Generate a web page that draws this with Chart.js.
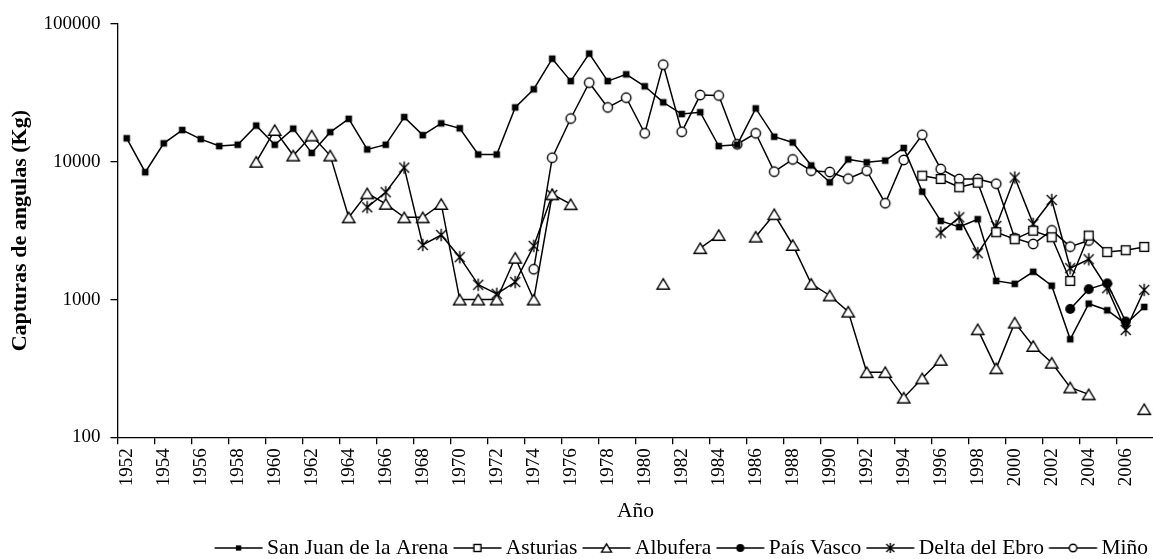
<!DOCTYPE html>
<html><head><meta charset="utf-8">
<script src="https://cdn.jsdelivr.net/npm/chart.js@4.4.0/dist/chart.umd.min.js"></script>
<style>
html,body{margin:0;padding:0;background:#fff;overflow:hidden;width:1153px;height:559px}
#wrap{position:absolute;left:0;top:0;width:1160px;height:570px}
</style></head><body>
<div id="wrap"><canvas id="c"></canvas></div>
<script>
// ---- data ----
const years = ['1952','1953','1954','1955','1956','1957','1958','1959','1960','1961','1962','1963','1964','1965','1966','1967','1968','1969','1970','1971','1972','1973','1974','1975','1976','1977','1978','1979','1980','1981','1982','1983','1984','1985','1986','1987','1988','1989','1990','1991','1992','1993','1994','1995','1996','1997','1998','1999','2000','2001','2002','2003','2004','2005','2006','2007'];
const yTicks = [100, 1000, 10000, 100000];
const sanJuan = [14800,8400,13600,17000,14600,13000,13300,18300,13300,17400,11600,16400,20500,12300,13300,21100,15600,19000,17500,11300,11300,24800,33600,56000,38500,61000,38500,43100,35300,27000,22200,22900,13000,13300,24400,15200,13800,9400,7100,10400,9900,10200,12600,6070,3720,3360,3830,1365,1300,1590,1260,515,933,836,665,883];
const asturias = [null,null,null,null,null,null,null,null,null,null,null,null,null,null,null,null,null,null,null,null,null,null,null,null,null,null,null,null,null,null,null,null,null,null,null,null,null,null,null,null,null,null,null,7930,7500,6530,7050,3080,2740,3160,2830,1365,2910,2210,2280,2410];
const albufera = [null,null,null,null,null,null,null,10000,17000,11100,15500,11100,3950,5900,4950,3950,3950,4940,1000,1000,1000,2010,1000,5810,4920,null,null,null,null,1300,null,2360,2940,null,2860,4160,2490,1300,1070,817,297,297,194,268,365,null,608,317,680,460,348,230,205,null,null,160];
const paisVasco = [null,null,null,null,null,null,null,null,null,null,null,null,null,null,null,null,null,null,null,null,null,null,null,null,null,null,null,null,null,null,null,null,null,null,null,null,null,null,null,null,null,null,null,null,null,null,null,null,null,null,null,855,1190,1310,692,null];
const deltaEbro = [null,null,null,null,null,null,null,null,null,null,null,null,null,4680,6010,9060,2490,2940,2030,1280,1100,1340,2450,5740,null,null,null,null,null,null,null,null,null,null,null,null,null,null,null,null,null,null,null,null,3060,3950,2170,3420,7680,3540,5280,1690,1960,1210,601,1175];
const mino = [null,null,null,null,null,null,null,null,null,null,null,null,null,null,null,null,null,null,null,null,null,null,1660,10700,20600,37500,24800,29200,16100,50700,16500,30500,30300,13400,16100,8480,10400,8610,8430,7540,8610,5000,10300,15700,8870,7500,7500,6930,2790,2530,3180,2420,2680,null,null,null];
const seriesNames = ['San Juan de la Arena','Asturias','Albufera','País Vasco','Delta del Ebro','Miño'];
const seriesData = [sanJuan, asturias, albufera, paisVasco, deltaEbro, mino];
const seriesMarkers = ['sq','osq','tri','dot','star','circ'];

// ---- marker drawing ----
const SERIF = "'Liberation Serif','Times New Roman',serif";
function drawMarker(g, type, cx, cy, s) {
  g.lineWidth = 1.4; g.strokeStyle = '#000'; g.fillStyle = '#000';
  if (type === 'sq') { const a = 3.3*s; g.fillRect(cx-a, cy-a, 2*a, 2*a); }
  else if (type === 'osq') { const a = 4.4*s; g.fillStyle='#fff'; g.fillRect(cx-a,cy-a,2*a,2*a); g.strokeRect(cx-a,cy-a,2*a,2*a); }
  else if (type === 'tri') { const w = 6.2*s, h = 5.2*s; g.beginPath(); g.moveTo(cx, cy-h); g.lineTo(cx+w, cy+h); g.lineTo(cx-w, cy+h); g.closePath(); g.fillStyle='#fff'; g.fill(); g.stroke(); }
  else if (type === 'dot') { g.beginPath(); g.arc(cx, cy, 5*s, 0, Math.PI*2); g.fill(); }
  else if (type === 'star') { const a = 5*s; g.beginPath(); g.moveTo(cx-a,cy-a); g.lineTo(cx+a,cy+a); g.moveTo(cx-a,cy+a); g.lineTo(cx+a,cy-a); g.moveTo(cx,cy-a*1.25); g.lineTo(cx,cy+a*1.25); g.stroke(); }
  else if (type === 'circ') { g.beginPath(); g.arc(cx, cy, 4.7*s, 0, Math.PI*2); g.fillStyle='#fff'; g.fill(); g.stroke(); }
}
function pointImg(type) {
  const c = document.createElement('canvas'); c.width = 18; c.height = 18;
  drawMarker(c.getContext('2d'), type, 9, 9, 1); return c;
}
function legendImg(type) {
  const c = document.createElement('canvas'); c.width = 50; c.height = 16;
  const g = c.getContext('2d');
  g.strokeStyle = '#000'; g.lineWidth = 1.4; g.beginPath(); g.moveTo(0.7, 8); g.lineTo(48.7, 8); g.stroke();
  drawMarker(g, type, 24.7, 8, 0.8); return c;
}
const pImgs = seriesMarkers.map(pointImg);
const lImgs = seriesMarkers.map(legendImg);

Chart.defaults.font.family = SERIF;
Chart.defaults.color = '#000';

new Chart(document.getElementById('c'), {
  type: 'line',
  data: {
    labels: years,
    datasets: seriesNames.map((n, i) => ({
      label: n, data: seriesData[i], borderColor: '#000', borderWidth: 1.5,
      pointStyle: pImgs[i], pointRadius: 5, pointHoverRadius: 5,
      spanGaps: false, tension: 0, fill: false
    }))
  },
  options: {
    responsive: true, maintainAspectRatio: false, animation: false, devicePixelRatio: 1,
    events: [],
    layout: { padding: { top: 24, left: 0, right: 0, bottom: 1.25 } },
    plugins: {
      tooltip: { enabled: false },
      legend: {
        position: 'bottom', align: 'end',
        labels: {
          usePointStyle: true, pointStyleWidth: 34.65, padding: 12, color: '#000',
          font: { family: SERIF, size: 21.5 },
          generateLabels: (chart) => chart.data.datasets.map((d, i) => ({
            text: d.label, pointStyle: lImgs[i], fillStyle: '#000', strokeStyle: '#000',
            lineWidth: 0, hidden: false, datasetIndex: i, fontColor: '#000'
          }))
        }
      }
    },
    scales: {
      x: {
        type: 'category', offset: true,
        grid: { offset: true, drawOnChartArea: false, drawTicks: true, tickLength: 7, lineWidth: 1.3,
                color: (c) => (c.index % 2 === 0 ? '#000' : 'rgba(0,0,0,0)') },
        border: { display: true, color: '#000', width: 1.3 },
        ticks: { autoSkip: false, maxRotation: 90, minRotation: 90, padding: 4, color: '#000',
                 font: { family: SERIF, size: 19 },
                 callback: function (v, i) { return i % 2 === 0 ? this.getLabelForValue(v) : ''; } },
        title: { display: true, text: 'Año', color: '#000', font: { family: SERIF, size: 21.5 },
                 padding: { top: 11.8, bottom: 1.35 } },
        afterFit: (a) => { a.paddingLeft = 0; a.paddingRight = 0; a.height = 87.95; }
      },
      y: {
        type: 'logarithmic', min: 100, max: 100000,
        afterBuildTicks: (a) => { a.ticks = yTicks.map(v => ({ value: v })); },
        grid: { drawOnChartArea: false, tickLength: 7, color: '#000', lineWidth: 1.3 },
        border: { display: true, color: '#000', width: 1.3 },
        ticks: { color: '#000', padding: 10, font: { family: SERIF, size: 19 }, callback: (v) => String(v) },
        title: { display: true, text: 'Capturas de angulas (Kg)', color: '#000',
                 font: { family: SERIF, size: 22, weight: 'bold' }, padding: { top: 7, bottom: 0 } },
        afterFit: (a) => { a.width = 117.5; a.paddingTop = 0; a.paddingBottom = 0; }
      }
    }
  }
});
</script>
</body></html>
